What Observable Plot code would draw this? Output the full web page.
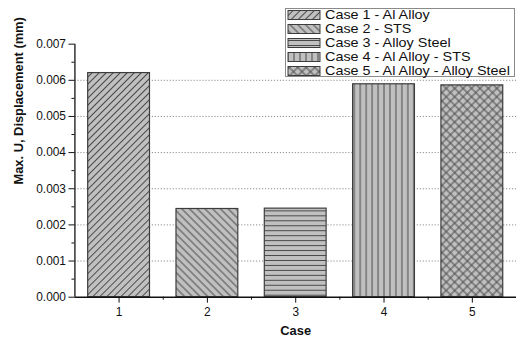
<!DOCTYPE html>
<html><head><meta charset="utf-8">
<script src="https://cdn.jsdelivr.net/npm/d3@7"></script>
<script src="https://cdn.jsdelivr.net/npm/@observablehq/plot@0.6"></script>
<style>
body{margin:0;background:#fff;overflow:hidden}
#wrap{position:relative;width:516px;height:340px;overflow:hidden;background:#fff}
#legend{position:absolute;left:285px;top:8px}
</style></head>
<body><div id="wrap"></div>
<script>
// ---- data ----
const cases = [1, 2, 3, 4, 5];
const caseLabels = ["Case 1 - Al Alloy", "Case 2 - STS", "Case 3 - Alloy Steel", "Case 4 - Al Alloy - STS", "Case 5 - Al Alloy - Alloy Steel"];
const displacement = [0.00620, 0.00244, 0.00245, 0.00589, 0.00586];
const yTicks = [0, 0.001, 0.002, 0.003, 0.004, 0.005, 0.006, 0.007];
const yMinorTicks = [0.0005, 0.0015, 0.0025, 0.0035, 0.0045, 0.0055, 0.0065];
const xMinorTicks = [1.5, 2.5, 3.5, 4.5];
const xTitle = "Case";
const yTitle = "Max. U, Displacement (mm)";

const data = cases.map((c, i) => ({case: c, value: displacement[i], label: caseLabels[i], pat: `url(#pat${i})`}));

const font = "'Liberation Sans', Arial, sans-serif";
const chart = Plot.plot({
  width: 520, height: 340,
  marginLeft: 75, marginRight: 0, marginTop: 44, marginBottom: 41,
  style: {fontFamily: font, fontSize: "12px", color: "#111", background: "#fff"},
  x: {domain: [0.5, 5.5]},
  y: {domain: [0, 0.007]},
  color: {type: "identity"},
  marks: [
    Plot.gridY(yTicks.filter(t => t > 0 && t < 0.007), {stroke: "#8c8c8c", strokeOpacity: 1, strokeDasharray: "1.2,1.8"}),
    Plot.rect(data, {x1: d => d.case - 0.35, x2: d => d.case + 0.35, y1: 0, y2: "value", fill: "pat", stroke: "#3c3c3c", strokeWidth: 1.2}),
    Plot.axisY({ticks: yTicks, tickFormat: d => d.toFixed(3), tickSize: 6, tickPadding: 3, label: null, stroke: "#111"}),
    Plot.axisY({ticks: yMinorTicks, tickFormat: () => "", tickSize: 3, label: null, stroke: "#111"}),
    Plot.axisX({ticks: cases, tickFormat: d => String(d), tickSize: 6, tickPadding: 4, label: null, stroke: "#111"}),
    Plot.axisX({ticks: xMinorTicks, tickFormat: () => "", tickSize: 3, label: null, stroke: "#111"}),
    Plot.ruleX([0.5], {stroke: "#111", strokeWidth: 1.3}),
    Plot.ruleY([0], {stroke: "#111", strokeWidth: 1.5}),
    Plot.text([xTitle], {frameAnchor: "bottom", dy: 33.5, lineAnchor: "middle", fontWeight: "bold", fontSize: 13, fill: "#111"}),
    Plot.text([yTitle], {frameAnchor: "left", dx: -57, dy: 14, rotate: -90, fontWeight: "bold", fontSize: 13, fill: "#111"})
  ]
});

// ---- hatch patterns ----
const defs = d3.select(chart).insert("defs", ":first-child");
const bg = "#c0c0c0", ink = "#4a4a4a";
function pattern(id, size, rot, lines) {
  const p = defs.append("pattern").attr("id", id).attr("patternUnits", "userSpaceOnUse")
    .attr("width", size).attr("height", size);
  if (rot) p.attr("patternTransform", `rotate(${rot})`);
  p.append("rect").attr("width", size).attr("height", size).attr("fill", bg);
  for (const [x1, y1, x2, y2] of lines)
    p.append("line").attr("x1", x1).attr("y1", y1).attr("x2", x2).attr("y2", y2)
      .attr("stroke", ink).attr("stroke-width", 1);
}
pattern("pat0", 5, 45, [[2.5, 0, 2.5, 5]]);
pattern("pat1", 5.5, -45, [[2.75, 0, 2.75, 5.5]]);
pattern("pat2", 5, 0, [[0, 2.5, 5, 2.5]]);
pattern("pat3", 6, 0, [[3, 0, 3, 6]]);
pattern("pat4", 6, 45, [[3, 0, 3, 6], [0, 3, 6, 3]]);

const wrap = document.getElementById("wrap");
wrap.appendChild(chart);

// ---- legend ----
const lg = d3.select(wrap).append("svg").attr("id", "legend").attr("width", 231).attr("height", 70);
lg.append("rect").attr("x", 0.5).attr("y", 0.5).attr("width", 229).attr("height", 68)
  .attr("fill", "#fff").attr("stroke", "#8a8a8a");
caseLabels.forEach((lab, i) => {
  const cy = 7 + i * 14;
  lg.append("rect").attr("x", 3).attr("y", cy - 4.5).attr("width", 32).attr("height", 9)
    .attr("fill", `url(#pat${i})`).attr("stroke", "#3c3c3c").attr("stroke-width", 1);
  lg.append("text").attr("transform", `translate(40,${cy}) scale(1.2,1)`).attr("dy", "0.36em")
    .attr("font-family", font).attr("font-size", 12).attr("fill", "#111").text(lab);
});
</script>
</body></html>
